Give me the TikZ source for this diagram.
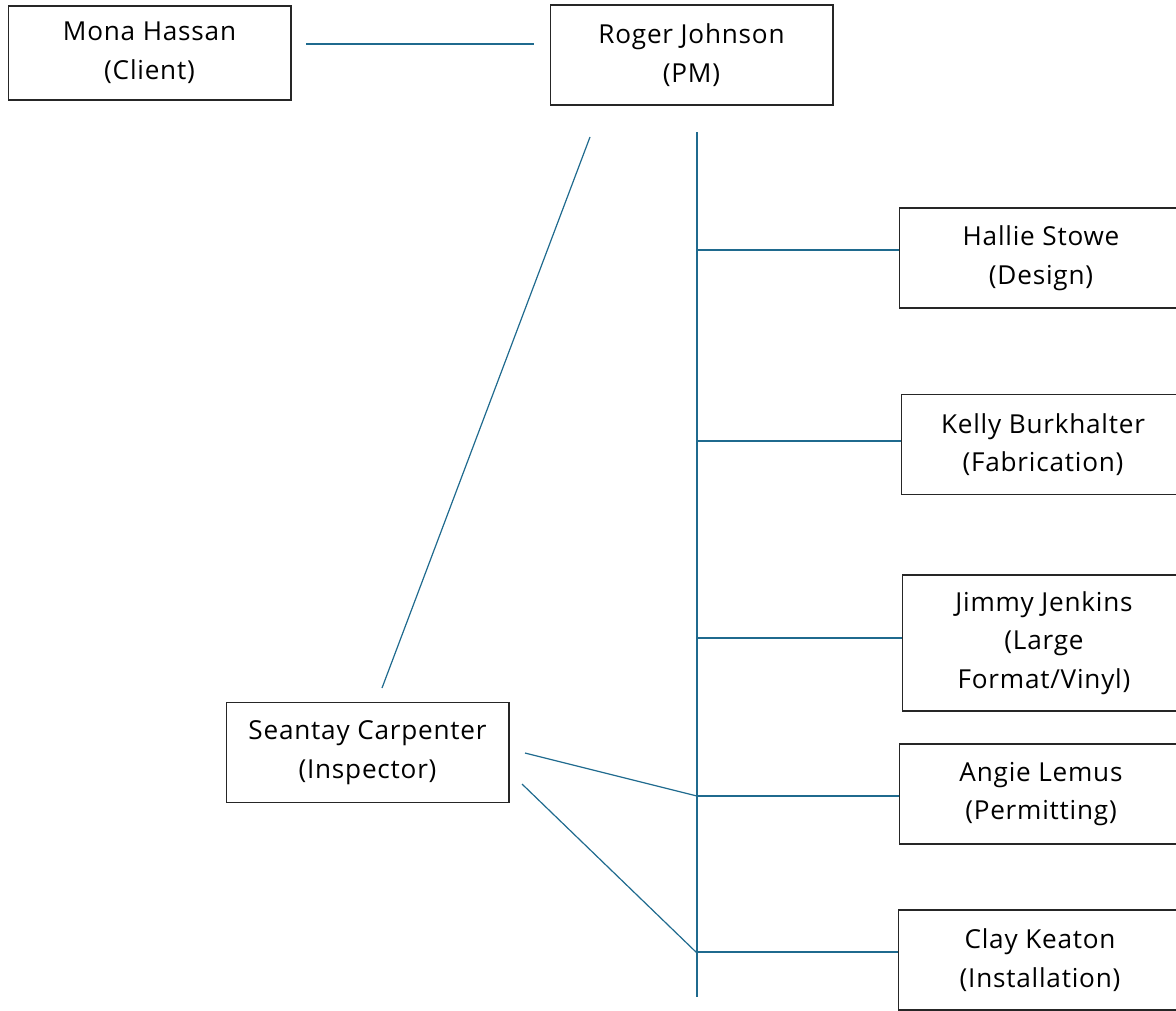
\documentclass[tikz,border=0pt]{standalone}
\usepackage{fontspec}
\setmainfont[LetterSpace=3]{Open Sans}
\usepackage{xcolor}
\usepackage{tikz}
\definecolor{linkblue}{HTML}{1F6A8E}

\tikzset{
    person/.style={draw=black!85, line width=1pt, fill=white, align=center,
        minimum width=212pt, minimum height=75pt, inner sep=0pt,
        font=\fontsize{19.6}{29}\selectfont},
    link/.style={draw=linkblue, line width=0.9pt}
}

\begin{document}
\begin{tikzpicture}[x=0.75pt, y=-0.75pt]
    \clip (0,0) rectangle (1176,1010);
    \useasboundingbox (0,0) rectangle (1176,1010);
    % boxes
    \node [person, minimum height=70.5pt] (mona) at (149.5,53) {Mona Hassan\\(Client)};
    \node [person] (roger) at (691.5,55) {Roger Johnson\\(PM)};
    \node [person] (hallie) at (1041,258) {Hallie Stowe\\(Design)};
    \node [person] (kelly) at (1043,444.5) {Kelly Burkhalter\\(Fabrication)};
    \node [person, minimum height=102pt] (jimmy) at (1044,643) {Jimmy Jenkins\\(Large\\Format/Vinyl)};
    \node [person] (angie) at (1041,794) {Angie Lemus\\(Permitting)};
    \node [person] (clay) at (1040,960) {Clay Keaton\\(Installation)};
    \node [person] (seantay) at (367.5,752.5) {Seantay Carpenter\\(Inspector)};
    % ends of the lines
    \coordinate (cl) at (306,44);
    \coordinate (pl) at (534,44);
    \coordinate (dtop) at (590,137);
    \coordinate (dbot) at (382,688);
    \coordinate (ttop) at (697,132);
    \coordinate (tbot) at (697,997);
    \foreach \n/\y in {hallie/250, kelly/441, jimmy/638, angie/796, clay/952}
        \draw [link] (697,\y) -- (\n.west |- 0,\y);
    \coordinate (s1) at (525,753);
    \coordinate (s2) at (522,784);
    \coordinate (a1) at (697,796);
    \coordinate (a2) at (697,953);
    % lines
    \draw [link] (cl) -- (pl);
    \draw [link] (dtop) -- (dbot);
    \draw [link] (ttop) -- (tbot);
    \draw [link] (s1) -- (a1);
    \draw [link] (s2) -- (a2);
\end{tikzpicture}
\end{document}
